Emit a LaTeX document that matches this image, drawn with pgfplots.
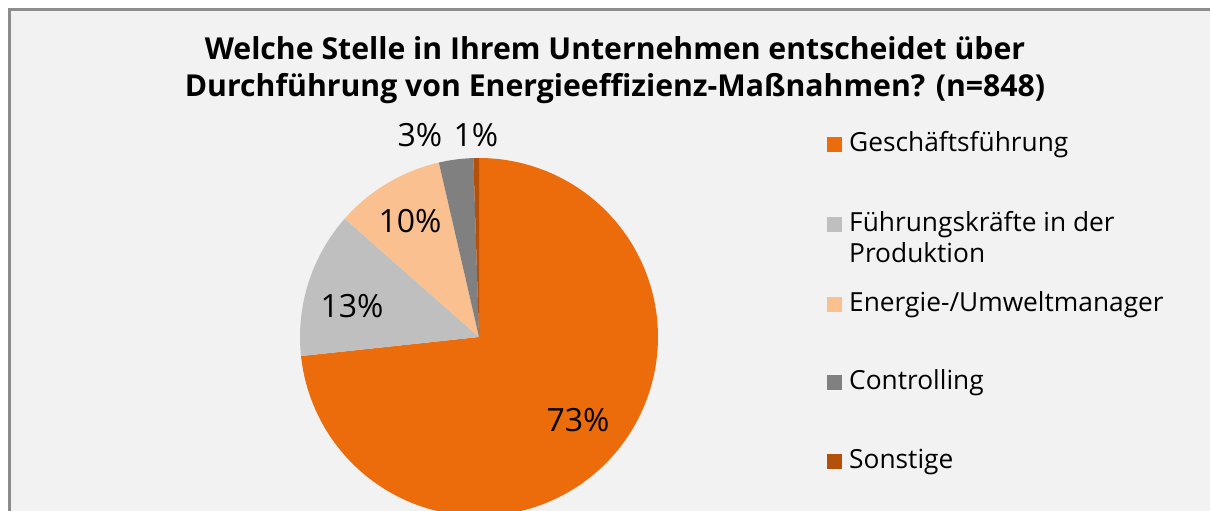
\documentclass[border=0pt]{standalone}
\usepackage{pgfplots}
\pgfplotsset{compat=1.18}
\usepackage{fontspec}
\setmainfont{Open Sans}
\definecolor{cOr}{HTML}{EC6C0B}
\definecolor{cLg}{HTML}{BFBFBF}
\definecolor{cPe}{HTML}{FAC090}
\definecolor{cDg}{HTML}{808080}
\definecolor{cBr}{HTML}{B5500B}
\definecolor{bg}{HTML}{F2F2F2}
\definecolor{border}{HTML}{8C8C8C}
% shares in percent
\def\vA{73.3}\def\vB{13.2}\def\vC{9.9}\def\vD{3.1}\def\vE{0.5}
\pgfmathsetmacro{\aA}{90}
\pgfmathsetmacro{\aB}{90-3.6*\vA}
\pgfmathsetmacro{\aC}{\aB-3.6*\vB}
\pgfmathsetmacro{\aD}{\aC-3.6*\vC}
\pgfmathsetmacro{\aE}{\aD-3.6*\vD}
\pgfmathsetmacro{\aF}{\aE-3.6*\vE}
\newcommand{\lab}{\fontsize{32}{38}\selectfont}
\newcommand{\leg}{\fontsize{26.3}{31}\selectfont}
\newcommand{\ttl}{\fontsize{30.2}{36}\selectfont\bfseries}
\begin{document}
\begin{tikzpicture}
\begin{axis}[x=1pt,y=1pt,xmin=0,xmax=1210,ymin=-511,ymax=0,
  scale only axis,hide axis,clip=true]
  \fill[white] (axis cs:0,-511) rectangle (axis cs:1210,0);
  \fill[bg] (axis cs:9,-511) rectangle (axis cs:1210,-10);
  \draw[border,line width=2.5pt] (axis cs:9.5,-530) -- (axis cs:9.5,-9.5) -- (axis cs:1230,-9.5);
  % pie slices
  \addplot[fill=cOr,draw=none,domain=\aB:\aA,samples=150,variable=\t]
    ({479+179*cos(\t)},{-337+179*sin(\t)}) -- (axis cs:479,-337) -- cycle;
  \addplot[fill=cLg,draw=none,domain=\aC:\aB,samples=40,variable=\t]
    ({479+179*cos(\t)},{-337+179*sin(\t)}) -- (axis cs:479,-337) -- cycle;
  \addplot[fill=cPe,draw=none,domain=\aD:\aC,samples=40,variable=\t]
    ({479+179*cos(\t)},{-337+179*sin(\t)}) -- (axis cs:479,-337) -- cycle;
  \addplot[fill=cDg,draw=none,domain=\aE:\aD,samples=20,variable=\t]
    ({479+179*cos(\t)},{-337+179*sin(\t)}) -- (axis cs:479,-337) -- cycle;
  \addplot[fill=cBr,draw=none,domain=\aF:\aE,samples=10,variable=\t]
    ({479+179*cos(\t)},{-337+179*sin(\t)}) -- (axis cs:479,-337) -- cycle;
  % labels
  \node[anchor=base,font=\lab] at (axis cs:578,-432) {73\%};
  \node[anchor=base,font=\lab] at (axis cs:352,-318) {13\%};
  \node[anchor=base,font=\lab] at (axis cs:410,-233) {10\%};
  \node[anchor=base,font=\lab] at (axis cs:420,-147) {3\%};
  \node[anchor=base,font=\lab] at (axis cs:476,-147) {1\%};
  % title
  \node[anchor=base,font=\ttl] at (axis cs:615,-60) {Welche Stelle in Ihrem Unternehmen entscheidet über};
  \node[anchor=base,font=\ttl] at (axis cs:615,-97) {Durchführung von Energieeffizienz-Maßnahmen? (n=848)};
  % legend
  \fill[cOr] (axis cs:827,-152) rectangle (axis cs:842,-137);
  \node[anchor=base west,font=\leg,inner xsep=0pt] at (axis cs:849,-152) {Geschäftsführung};
  \fill[cLg] (axis cs:827,-232) rectangle (axis cs:842,-217);
  \node[anchor=base west,font=\leg,inner xsep=0pt] at (axis cs:849,-232) {Führungskräfte in der};
  \node[anchor=base west,font=\leg,inner xsep=0pt] at (axis cs:849,-263) {Produktion};
  \fill[cPe] (axis cs:827,-312) rectangle (axis cs:842,-297);
  \node[anchor=base west,font=\leg,inner xsep=0pt] at (axis cs:849,-312) {Energie-/Umweltmanager};
  \fill[cDg] (axis cs:827,-390) rectangle (axis cs:842,-375);
  \node[anchor=base west,font=\leg,inner xsep=0pt] at (axis cs:849,-390) {Controlling};
  \fill[cBr] (axis cs:827,-469) rectangle (axis cs:842,-454);
  \node[anchor=base west,font=\leg,inner xsep=0pt] at (axis cs:849,-469) {Sonstige};
\end{axis}
\end{tikzpicture}
\end{document}
